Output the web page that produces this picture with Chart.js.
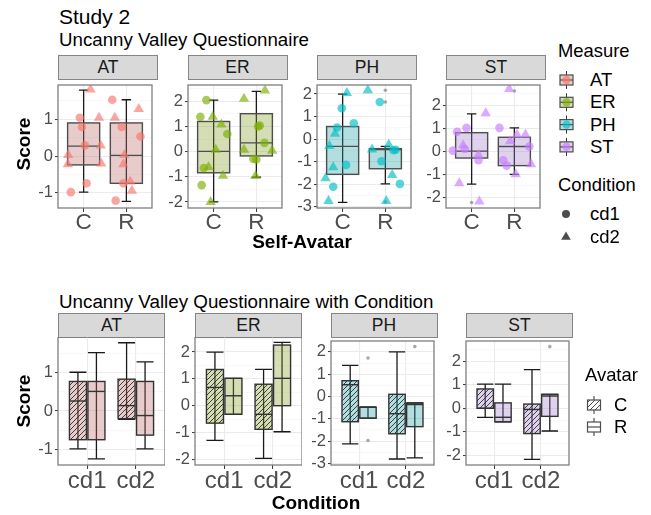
<!DOCTYPE html>
<html>
<head>
<meta charset="utf-8">
<script src="https://cdn.jsdelivr.net/npm/chart.js@4.4.1/dist/chart.umd.min.js"></script>
<style>
  body { margin: 0; background: #fff; font-family: 'Liberation Sans', Arial, sans-serif; }
  #page { position: relative; width: 651px; height: 515px; overflow: hidden; background: #fff; }
  .t { position: absolute; white-space: nowrap; line-height: 1; color: #000; }
  .strip { position: absolute; box-sizing: border-box; background: #D9D9D9; border: 1.3px solid #858585;
           color: #1A1A1A; font-size: 17.5px; text-align: center; }
  canvas { position: absolute; }
</style>
</head>
<body>
<div id="page"></div>
<script>
// ---- data ----
const measures = ['AT', 'ER', 'PH', 'ST'];
const avatars = ['C', 'R'];
const conditions = ['cd1', 'cd2'];

// y limits of each facet (top: by avatar, bottom: by condition)
const topRanges = [[-1.41, 1.93], [-2.24, 2.65], [-3.05, 2.40], [-2.46, 2.88]];
const bottomRanges = [[-1.41, 1.93], [-2.21, 2.56], [-3.07, 2.49], [-2.40, 2.85]];

// top plot, jittered points: [x (1 = C, 2 = R, jittered), score]
const atCd1 = [[0.70, -0.98], [0.91, 1.04], [0.96, 0.79], [1.03, 0.29], [1.07, -0.74],
               [1.67, 1.53], [1.89, 0.79], [2.33, 0.53], [1.93, -0.74], [1.75, -1.21]];
const atCd2 = [[1.16, 1.81], [1.36, 1.04], [1.40, 0.29], [0.64, 0.03], [0.63, -0.22], [1.41, -0.20],
               [1.73, 1.04], [2.29, 1.28], [1.95, 0.03], [1.93, -0.22], [2.09, -0.69], [2.13, -0.94]];
const erCd1 = [[0.83, 2.05], [0.69, 1.39], [1.32, 0.70], [0.77, -0.65], [0.72, -1.33],
               [2.08, 1.04], [2.04, 1.00], [2.19, 0.35], [1.93, -0.29], [2.00, -0.31]];
const erCd2 = [[0.98, 1.39], [1.18, 1.08], [1.05, 0.08], [0.88, -0.61], [1.22, -0.96], [0.93, -2.00],
               [1.71, 2.10], [2.20, 2.43], [1.71, 0.08], [2.37, 0.04], [1.98, -0.97]];
const phCd1 = [[0.98, 1.37], [1.26, 0.70], [0.87, 0.52], [1.08, -1.14], [0.78, -2.11],
               [1.87, 1.65], [1.91, -0.98], [2.19, -0.49], [2.24, -0.47], [2.34, -1.98]];
const phCd2 = [[1.10, 2.04], [0.82, 0.24], [0.69, -0.30], [0.78, -1.24], [0.60, -1.73], [0.67, -2.74],
               [1.59, 2.17], [1.69, -0.46], [2.08, -0.25], [2.16, -1.59], [2.02, -2.74]];
const stCd1 = [[0.66, 0.85], [0.88, 1.02], [0.56, 0.03], [0.84, 0.10], [1.16, -0.39],
               [1.65, 1.02], [2.35, 0.21], [1.74, -0.39], [1.82, -0.62]];
const stCd2 = [[1.33, 1.65], [0.80, 0.26], [1.16, -0.15], [0.71, -1.39], [1.18, -2.18],
               [1.88, 2.71], [2.06, 0.72], [2.26, 0.72], [1.90, 0.44], [2.39, -0.56], [2.03, -1.00]];

// top plot box stats [lower whisker, Q1, median, Q3, upper whisker] for C, R
const atBoxes = [[-0.98, -0.24, 0.27, 0.90, 1.79], [-1.23, -0.74, 0.02, 0.90, 1.53]];
const erBoxes = [[-2.00, -0.84, 0.01, 1.20, 2.05], [-1.01, -0.17, 0.35, 1.51, 2.40]];
const phBoxes = [[-2.80, -1.56, -0.32, 0.56, 2.00], [-1.98, -1.31, -0.46, -0.42, -0.32]];
const stBoxes = [[-1.42, -0.29, 0.01, 0.81, 1.63], [-1.00, -0.62, 0.21, 0.61, 1.02]];
// outliers: [avatar index, score]
const atOut = [];
const erOut = [];
const phOut = [[1, 2.17], [1, 1.65], [1, -2.78]];
const stOut = [[0, -2.22], [1, 2.62]];

// bottom plot box stats, order: cd1-C, cd1-R, cd2-C, cd2-R
const atCond = [[-0.99, -0.75, 0.26, 0.77, 1.01], [-1.25, -0.75, 0.51, 0.77, 1.52],
                [-0.22, -0.20, 0.14, 0.83, 1.78], [-0.99, -0.63, -0.12, 0.77, 1.28]];
const erCond = [[-1.29, -0.65, 0.68, 1.35, 2.00], [-0.32, -0.32, 0.37, 1.02, 1.02],
                [-1.96, -0.88, -0.32, 0.80, 1.35], [-0.97, 0.00, 1.02, 2.26, 2.36]];
const phCond = [[-2.12, -1.13, 0.53, 0.71, 1.40], [-0.97, -0.97, -0.48, -0.48, -0.48],
                [-2.80, -1.67, -0.77, 0.10, 2.00], [-2.75, -1.35, -0.36, -0.29, -0.29]];
const stCond = [[-0.38, 0.00, 0.00, 0.82, 1.02], [-0.57, -0.57, -0.38, 0.23, 1.02],
                [-2.16, -1.07, -0.05, 0.18, 1.64], [-0.96, -0.34, 0.52, 0.59, 0.59]];
// outliers: [group index (as above), score]
const atCondOut = [];
const erCondOut = [];
const phCondOut = [[1, 1.73], [1, -1.97], [3, 2.24]];
const stCondOut = [[3, 2.61]];

// ---- styling ----
const FONT = "'Liberation Sans', Arial, sans-serif";
const pointColors = ['rgba(248,118,109,0.65)', 'rgba(124,174,0,0.65)', 'rgba(0,191,196,0.65)', 'rgba(199,124,255,0.65)'];
const boxFills = ['rgba(190,110,110,0.35)', 'rgba(132,158,41,0.35)', 'rgba(35,161,164,0.35)', 'rgba(161,126,201,0.35)'];
const AXW = 40, XAXH = 34;

const page = document.getElementById('page');

function text(str, x, y, size, o = {}) {
  const d = document.createElement('div');
  d.className = 't';
  d.textContent = str;
  d.style.left = x + 'px';
  d.style.top = y + 'px';
  d.style.fontSize = size + 'px';
  if (o.bold) d.style.fontWeight = 'bold';
  if (o.color) d.style.color = o.color;
  let tr = o.center ? 'translate(-50%,-50%)' : 'translateY(-50%)';
  if (o.rotate) tr += ' rotate(-90deg)';
  d.style.transform = tr;
  page.appendChild(d);
}

function strip(label, left, top, width, height) {
  const d = document.createElement('div');
  d.className = 'strip';
  d.textContent = label;
  Object.assign(d.style, { left: left + 'px', top: top + 'px', width: width + 'px', height: height + 'px', lineHeight: (height - 2) + 'px' });
  page.appendChild(d);
}

// diagonal hatch used for the C boxes in the lower plot
function makeHatch(ctx) {
  const t = document.createElement('canvas');
  t.width = 5; t.height = 5;
  const g = t.getContext('2d');
  g.strokeStyle = 'rgba(30,30,30,0.9)';
  g.lineWidth = 0.9;
  g.beginPath();
  g.moveTo(0, 5); g.lineTo(5, 0);
  g.moveTo(-1, 1); g.lineTo(1, -1);
  g.moveTo(4, 6); g.lineTo(6, 4);
  g.stroke();
  return ctx.createPattern(t, 'repeat');
}

function drawBox(ctx, xs, ys, b) {
  const cx = xs.getPixelForValue(b.x);
  const half = (xs.getPixelForValue(b.x + b.w / 2) - xs.getPixelForValue(b.x - b.w / 2)) / 2;
  const cap = (xs.getPixelForValue(b.x + b.cap / 2) - xs.getPixelForValue(b.x - b.cap / 2)) / 2;
  const [lo, q1, med, q3, hi] = b.stats.map(v => ys.getPixelForValue(v));
  // errorbar whisker first, the see-through box sits on it
  ctx.strokeStyle = '#1A1A1A';
  ctx.lineWidth = 1.3;
  ctx.beginPath();
  ctx.moveTo(cx, lo); ctx.lineTo(cx, hi);
  ctx.moveTo(cx - cap, lo); ctx.lineTo(cx + cap, lo);
  ctx.moveTo(cx - cap, hi); ctx.lineTo(cx + cap, hi);
  ctx.stroke();
  ctx.fillStyle = b.fill;
  ctx.fillRect(cx - half, q3, 2 * half, q1 - q3);
  if (b.hatch) {
    ctx.fillStyle = makeHatch(ctx);
    ctx.fillRect(cx - half, q3, 2 * half, q1 - q3);
  }
  ctx.strokeStyle = b.border;
  ctx.lineWidth = 1.4;
  ctx.strokeRect(cx - half, q3, 2 * half, q1 - q3);
  ctx.beginPath();
  ctx.moveTo(cx - half, med); ctx.lineTo(cx + half, med);
  ctx.stroke();
}

function boxPlugin(boxes) {
  return {
    id: 'boxes',
    beforeDatasetsDraw(chart) {
      const { ctx, chartArea: a, scales: { x, y } } = chart;
      ctx.save();
      ctx.beginPath();
      ctx.rect(a.left, a.top, a.right - a.left, a.bottom - a.top);
      ctx.clip();
      boxes.forEach(b => drawBox(ctx, x, y, b));
      ctx.restore();
    },
    afterDraw(chart) {
      const { ctx, chartArea: a } = chart;
      ctx.save();
      ctx.strokeStyle = '#7F7F7F';
      ctx.lineWidth = 1.3;
      ctx.strokeRect(a.left, a.top, a.right - a.left, a.bottom - a.top);
      ctx.restore();
    }
  };
}

const isInt = v => Math.abs(v - Math.round(v)) < 1e-6;

function facet(f) {
  const cv = document.createElement('canvas');
  const W = f.width + AXW, H = f.height + XAXH;
  cv.width = W; cv.height = H;
  cv.style.left = (f.left - AXW) + 'px';
  cv.style.top = f.top + 'px';
  cv.style.width = W + 'px';
  cv.style.height = H + 'px';
  page.appendChild(cv);

  new Chart(cv, {
    type: 'scatter',
    data: { datasets: f.datasets },
    options: {
      responsive: false,
      animation: false,
      events: [],
      layout: { padding: 0 },
      plugins: { legend: { display: false }, tooltip: { enabled: false } },
      scales: {
        x: {
          type: 'linear', min: 0.4, max: 2.6,
          afterBuildTicks: s => { s.ticks = [1, 2].map(v => ({ value: v })); },
          afterFit: s => { s.height = XAXH; s.paddingLeft = 0; s.paddingRight = 0; },
          border: { display: false },
          grid: { color: '#EBEBEB', lineWidth: 1.1, tickLength: 4, tickColor: '#333', tickWidth: 1 },
          ticks: {
            autoSkip: false, maxRotation: 0, padding: 0,
            callback: (v, i) => f.labels[i],
            color: '#4D4D4D', font: { family: FONT, size: f.xFont, lineHeight: 1 }
          }
        },
        y: {
          min: f.range[0], max: f.range[1],
          afterFit: s => { s.width = AXW; s.paddingTop = 0; s.paddingBottom = 0; },
          border: { display: false },
          grid: {
            color: c => isInt(c.tick.value) ? '#EBEBEB' : '#F3F3F3',
            lineWidth: c => isInt(c.tick.value) ? 1.1 : 0.6,
            tickLength: 3,
            tickColor: c => isInt(c.tick.value) ? '#333' : 'rgba(0,0,0,0)',
            tickWidth: 1
          },
          ticks: {
            stepSize: 0.5, includeBounds: false, autoSkip: false, padding: 2,
            callback: v => isInt(v) ? String(Math.round(v)) : '',
            color: '#4D4D4D', font: { family: FONT, size: 16.5 }
          }
        }
      }
    },
    plugins: [boxPlugin(f.boxes)]
  });
}

const xy = arr => arr.map(([x, y]) => ({ x, y }));
const outlierSet = pts => ({ data: xy(pts), pointStyle: 'circle', pointRadius: 1.8, pointBackgroundColor: 'rgba(110,110,110,0.6)', pointBorderWidth: 0 });

// ---- upper plot: Score by Self-Avatar ----
const topPoints = [[atCd1, atCd2], [erCd1, erCd2], [phCd1, phCd2], [stCd1, stCd2]];
const topBoxes = [atBoxes, erBoxes, phBoxes, stBoxes];
const topOut = [atOut, erOut, phOut, stOut];
const topLefts = [58, 187.5, 317, 446];

measures.forEach((m, i) => {
  strip(m, topLefts[i], 55, 100, 25);
  facet({
    left: topLefts[i], top: 79, width: 100, height: 129,
    range: topRanges[i], labels: avatars, xFont: 22.5,
    boxes: avatars.map((a, k) => ({ x: k + 1, w: 0.75, cap: 0.22, stats: topBoxes[i][k], fill: boxFills[i], border: '#4D4D4D', hatch: false })),
    datasets: [
      { data: xy(topPoints[i][0]), pointStyle: 'circle', pointRadius: 4.3, pointBackgroundColor: pointColors[i], pointBorderWidth: 0 },
      { data: xy(topPoints[i][1]), pointStyle: 'triangle', pointRadius: 6, pointBackgroundColor: pointColors[i], pointBorderWidth: 0 },
      outlierSet(topOut[i].map(([k, v]) => [k + 1, v]))
    ]
  });
});

// ---- lower plot: Score by Condition, dodged by Avatar ----
const condBoxes = [atCond, erCond, phCond, stCond];
const condOut = [atCondOut, erCondOut, phCondOut, stCondOut];
const botLefts = [58, 195, 330.5, 466];
const dodge = [-0.19, 0.19];
const groupX = g => Math.floor(g / 2) + 1 + dodge[g % 2];

measures.forEach((m, i) => {
  strip(m, botLefts[i], 313, 107, 25);
  facet({
    left: botLefts[i], top: 337, width: 107, height: 128,
    range: bottomRanges[i], labels: conditions, xFont: 24,
    boxes: condBoxes[i].map((s, g) => ({ x: groupX(g), w: 0.35, cap: 0.35, stats: s, fill: boxFills[i], border: '#333', hatch: g % 2 === 0 })),
    datasets: [outlierSet(condOut[i].map(([g, v]) => [groupX(g), v]))]
  });
});

// ---- titles and axis titles ----
text('Study 2', 59, 16, 21);
text('Uncanny Valley Questionnaire', 59, 39.5, 18.7);
text('Score', 22.5, 143.5, 19, { bold: true, center: true, rotate: true });
text('Self-Avatar', 302, 241, 19, { bold: true, center: true });
text('Uncanny Valley Questionnaire with Condition', 59, 302, 18.8);
text('Score', 22.5, 401, 19, { bold: true, center: true, rotate: true });
text('Condition', 316, 502, 19, { bold: true, center: true });

// ---- legends ----
text('Measure', 558, 51, 18.4);
const legY = [80, 102.3, 124.6, 146.9];
measures.forEach((m, i) => text(m, 590, legY[i], 18.5));
text('Condition', 558, 185, 18.4);
text(conditions[0], 590, 214, 18.5);
text(conditions[1], 590, 237, 18.5);
text('Avatar', 585, 375, 18.4);
text(avatars[0], 614, 405, 18.5);
text(avatars[1], 614, 427, 18.5);

const lc = document.createElement('canvas');
lc.width = 651; lc.height = 515;
lc.style.left = '0px'; lc.style.top = '0px';
page.appendChild(lc);
const g = lc.getContext('2d');

function keyBox(cx, cy, fill, hatch) {
  g.strokeStyle = '#333';
  g.lineWidth = 1;
  g.beginPath(); g.moveTo(cx, cy - 9); g.lineTo(cx, cy + 9); g.stroke();
  g.fillStyle = '#fff';
  g.fillRect(cx - 6.5, cy - 5, 13, 10);
  g.fillStyle = fill;
  g.fillRect(cx - 6.5, cy - 5, 13, 10);
  if (hatch) { g.fillStyle = makeHatch(g); g.fillRect(cx - 6.5, cy - 5, 13, 10); }
  g.strokeStyle = '#4D4D4D';
  g.lineWidth = 1.2;
  g.strokeRect(cx - 6.5, cy - 5, 13, 10);
  if (!hatch) { g.beginPath(); g.moveTo(cx - 6.5, cy); g.lineTo(cx + 6.5, cy); g.stroke(); }
}
measures.forEach((m, i) => {
  keyBox(566.5, legY[i], boxFills[i], false);
  g.fillStyle = pointColors[i];
  g.beginPath(); g.arc(566.5, legY[i], 4.2, 0, Math.PI * 2); g.fill();
});
g.fillStyle = '#4D4D4D';
g.beginPath(); g.arc(566, 214, 4, 0, Math.PI * 2); g.fill();
g.beginPath(); g.moveTo(566, 231.5); g.lineTo(570.8, 239.8); g.lineTo(561.2, 239.8); g.closePath(); g.fill();
keyBox(594, 405, 'rgba(255,255,255,0)', true);
keyBox(594, 427, 'rgba(255,255,255,0)', false);
</script>
</body>
</html>
